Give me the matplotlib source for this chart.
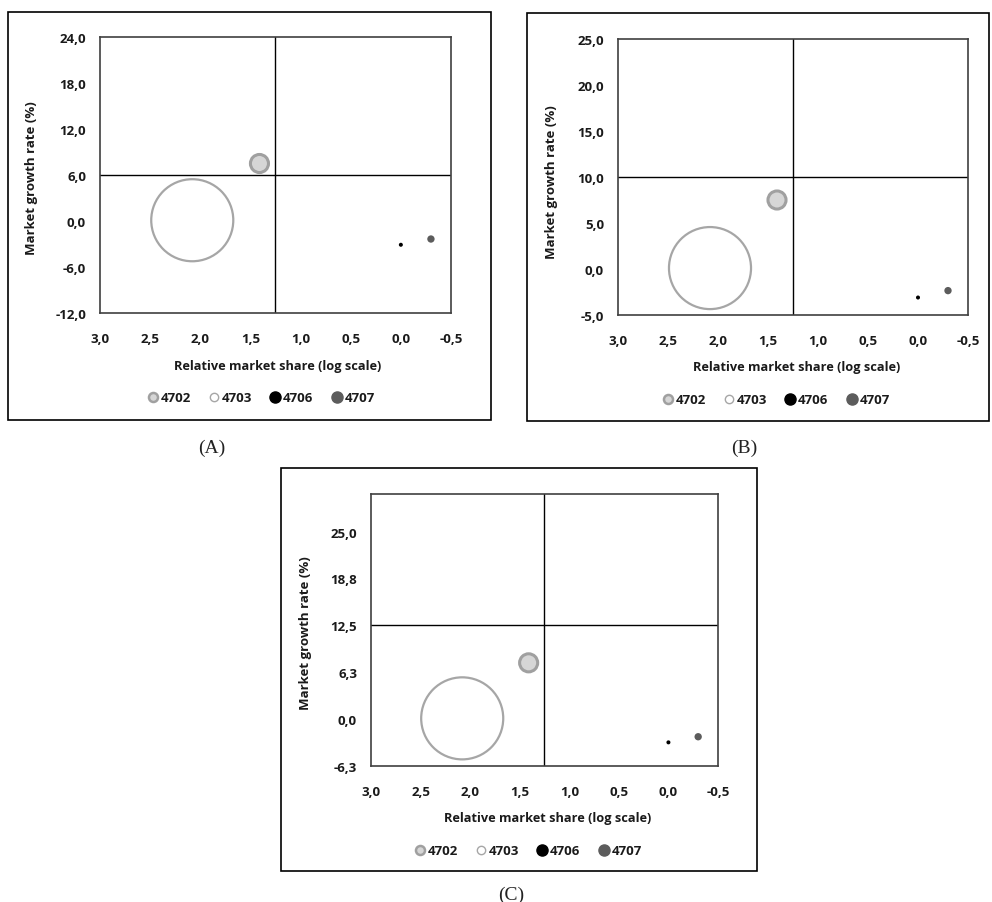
#!/usr/bin/env python

import matplotlib
matplotlib.use('agg')
import matplotlib.pyplot as plt  # noqa
from matplotlib.lines import Line2D  # noqa
from matplotlib.patches import Rectangle  # noqa

W, H = 992, 903

# bubbles (same for every panel)
labels = ['4702', '4703', '4706', '4707']
rel_share = [1.41, 2.08, 0.0, -0.30]
growth = [7.5, 0.1, -3.1, -2.35]
bubble_size = [4.85, 100.0, 0.24, 0.8]   # relative area, 4703 = 100

x_ticks = [3.0, 2.5, 2.0, 1.5, 1.0, 0.5, 0.0, -0.5]
x_tick_labels = ['3,0', '2,5', '2,0', '1,5', '1,0', '0,5', '0,0', '-0,5']
x_divider = 1.25

a_yticks = [-12, -6, 0, 6, 12, 18, 24]
a_ytick_labels = ['-12,0', '-6,0', '0,0', '6,0', '12,0', '18,0', '24,0']
a_ylim = (-12, 24)
a_divider = 6

b_yticks = [-5, 0, 5, 10, 15, 20, 25]
b_ytick_labels = ['-5,0', '0,0', '5,0', '10,0', '15,0', '20,0', '25,0']
b_ylim = (-5, 25)
b_divider = 10

c_yticks = [-6.25, 0, 6.25, 12.5, 18.75, 25]
c_ytick_labels = ['-6,3', '0,0', '6,3', '12,5', '18,8', '25,0']
c_ylim = (-6.25, 30)
c_divider = 12.5

fills = ['#d6d6d6', 'white', 'black', '#5c5c5c']
edges = ['#a0a0a0', '#a6a6a6', 'black', '#5c5c5c']
edge_w = [2.2, 1.6, 0, 0]

FONT = 'Open Sans'
FS = 9.5
TXT = '#1a1a1a'

fig = plt.figure(figsize=(W / 100, H / 100), dpi=100)


def px(l, t, r, b):
    return [l / W, 1 - b / H, (r - l) / W, (b - t) / H]


def fx(x):
    return x / W


def fy(y):
    return 1 - y / H


def panel(plot_box, outer_box, yticks, ytick_labels, ylim, divider,
          legend_xy, xlabel_xy, ylabel_xy, caption, caption_xy):
    # outer frame
    fig.patches.append(Rectangle((fx(outer_box[0]), fy(outer_box[3])),
                                 fx(outer_box[2] - outer_box[0]),
                                 (outer_box[3] - outer_box[1]) / H,
                                 transform=fig.transFigure, fill=False,
                                 edgecolor='black', linewidth=1.2))

    ax = fig.add_axes(px(*plot_box))
    ax.set_xlim(3.0, -0.5)
    ax.set_ylim(*ylim)
    ax.set_xticks(x_ticks, x_tick_labels)
    ax.set_yticks(yticks, ytick_labels)
    ax.tick_params(length=0, labelsize=FS, colors=TXT)
    ax.tick_params(axis='x', pad=14)
    ax.tick_params(axis='y', pad=10)
    for t in ax.get_xticklabels() + ax.get_yticklabels():
        t.set_fontfamily(FONT)
        t.set_fontweight('bold')
    for s in ax.spines.values():
        s.set_color('#404040')
        s.set_linewidth(1.2)

    ax.axvline(x_divider, color='black', linewidth=1.0, zorder=1)
    ax.axhline(divider, color='black', linewidth=1.0, zorder=1)

    ax.scatter(rel_share, growth,
               s=[v * 34.9 for v in bubble_size],
               c=fills, edgecolors=edges, linewidths=edge_w, zorder=3)

    fig.text(fx(xlabel_xy[0]), fy(xlabel_xy[1]),
             'Relative market share (log scale)', ha='center', va='center',
             fontsize=9.2, fontweight='bold', family=FONT, color=TXT)
    fig.text(fx(ylabel_xy[0]), fy(ylabel_xy[1]),
             'Market growth rate (%)', ha='center', va='center',
             rotation=90, fontsize=FS, fontweight='bold', family=FONT,
             color=TXT)

    handles = [
        Line2D([], [], linestyle='none', marker='o', markersize=6.5,
               markerfacecolor=fills[0], markeredgecolor=edges[0],
               markeredgewidth=1.8),
        Line2D([], [], linestyle='none', marker='o', markersize=6,
               markerfacecolor='white', markeredgecolor=edges[1],
               markeredgewidth=1.0),
        Line2D([], [], linestyle='none', marker='o', markersize=8,
               markerfacecolor=fills[2], markeredgecolor=edges[2]),
        Line2D([], [], linestyle='none', marker='o', markersize=8,
               markerfacecolor=fills[3], markeredgecolor=edges[3]),
    ]
    ax.legend(handles, labels, loc='center', ncol=4, frameon=False,
              bbox_to_anchor=(fx(legend_xy[0]), fy(legend_xy[1])),
              bbox_transform=fig.transFigure,
              prop={'family': FONT, 'weight': 'bold', 'size': FS},
              handlelength=0.8, handletextpad=0.2, columnspacing=1.35,
              labelcolor=TXT)

    fig.text(fx(caption_xy[0]), fy(caption_xy[1]), caption,
             ha='center', va='center', fontsize=14,
             family='Liberation Serif', color='#222222')
    return ax


panel((100, 38, 451, 314), (8, 13, 491, 421), a_yticks, a_ytick_labels,
      a_ylim, a_divider, (261, 399), (278, 367), (32, 178), '(A)', (212, 448))
panel((618, 40, 968, 316), (527, 14, 989, 422), b_yticks, b_ytick_labels,
      b_ylim, b_divider, (776, 401), (797, 368), (552, 182), '(B)', (744, 448))
panel((371, 495, 718, 767), (281, 469, 757, 872), c_yticks, c_ytick_labels,
      c_ylim, c_divider, (528, 852), (548, 819), (306, 633), '(C)', (511, 895))

plt.savefig('out.png', dpi=100)
